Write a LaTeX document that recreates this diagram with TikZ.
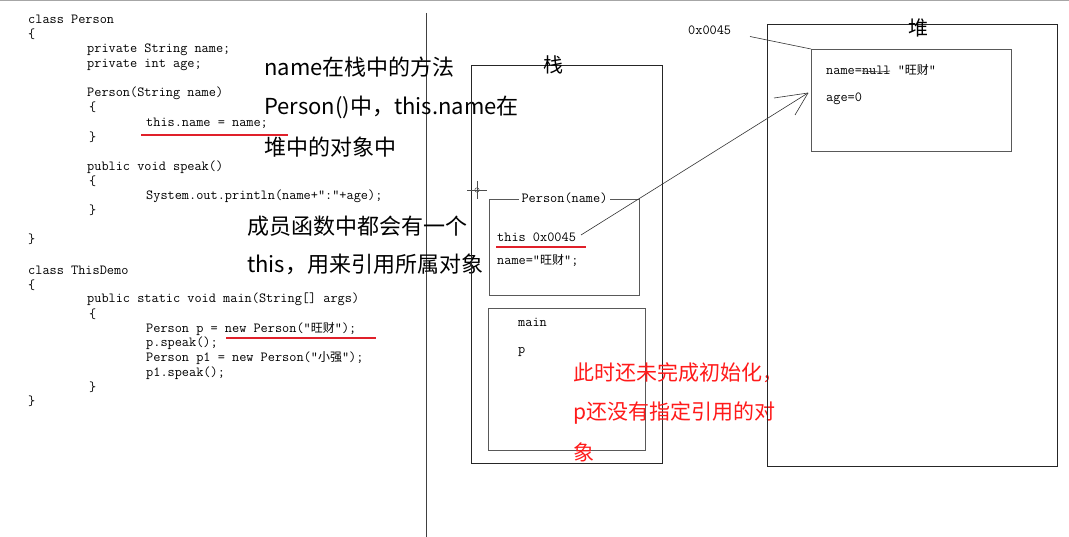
\documentclass[tikz,border=0pt]{standalone}
\usepackage{fontspec}
\newfontfamily\cjk{Noto Sans CJK SC}
\newcommand\codefont{\ttfamily\fontsize{13.9}{14}\selectfont}
\newcommand\cjkcode{\cjk\fontsize{12}{12}\selectfont}
\newcommand\notefont{\cjk\fontsize{22}{22}\selectfont}
\newcommand\rednotefont{\cjk\fontsize{21}{21}\selectfont}
\definecolor{redline}{HTML}{E0202A}
\definecolor{rednote}{HTML}{FF1A1A}
\begin{document}
\begin{tikzpicture}[x=1pt,y=-1pt,
  code/.style={font=\codefont,anchor=west,inner sep=0pt},
  note/.style={font=\notefont,anchor=west,inner sep=0pt},
  rnote/.style={font=\rednotefont,text=rednote,anchor=west,inner sep=0pt},
  title/.style={font=\cjk\fontsize{20}{20}\selectfont,inner sep=0pt},
  uline/.style={draw=redline,line width=2pt},
  boxa/.style={draw=black!85,line width=0.9pt},
  boxb/.style={draw=black!65,line width=0.9pt},
  thin/.style={draw=black!80,line width=0.6pt}]
\useasboundingbox (0,0) rectangle (1069,537);
\fill[white] (0,0) rectangle (1069,537);
\draw[black!35,line width=1pt] (0,0.5) -- (1069,0.5);
% divider
\coordinate (dtop) at (426.5,13);
\coordinate (dbot) at (426.5,537);
\draw[black!75,line width=0.9pt] (dtop) -- (dbot);
% code
\begin{scope}[yshift=-1.5pt]
\node[code] (c1) at (28,18) {class Person};
\node[code] (c2) at (28,33) {\{};
\node[code] (c3) at (87,48) {private String name;};
\node[code] (c4) at (87,63) {private int age;};
\node[code] (c5) at (87,92) {Person(String name)};
\node[code] (c6) at (89,106) {\{};
\node[code] (c7) at (146,122) {this.name = name;};
\node[code] (c8) at (89,136) {\}};
\node[code] (c9) at (87,166) {public void speak()};
\node[code] (c10) at (89,180) {\{};
\node[code] (c11) at (146,195) {System.out.println(name+”:”+age);};
\node[code] (c12) at (89,209) {\}};
\node[code] (c13) at (28,238) {\}};
\node[code] (c14) at (28,269) {class ThisDemo};
\node[code] (c15) at (28,284) {\{};
\node[code] (c16) at (87,298) {public static void main(String[] args)};
\node[code] (c17) at (89,313) {\{};
\node[code] (c18) at (146,328) {Person p = new Person(”{\cjkcode 旺财}”);};
\node[code] (c19) at (146,342) {p.speak();};
\node[code] (c20) at (146,357) {Person p1 = new Person(”{\cjkcode 小强}”);};
\node[code] (c21) at (146,372) {p1.speak();};
\node[code] (c22) at (89,386) {\}};
\node[code] (c23) at (28,400) {\}};
\end{scope}
% underlines
\coordinate (u1a) at (141,135); \coordinate (u1b) at (288,135);
\draw[uline] (u1a) -- (u1b);
\coordinate (u2a) at (226,338); \coordinate (u2b) at (376,338);
\draw[uline] (u2a) -- (u2b);
% notes
\node[note] (n1) at (264,67) {name在栈中的方法};
\node[note] (n2) at (264,107) {Person()中，this.name在};
\node[note] (n3) at (264,147) {堆中的对象中};
\node[note] (n4) at (247,226) {成员函数中都会有一个};
\node[note] (n5) at (247,264) {this，用来引用所属对象};
% stack
\draw[boxa] (471,65) rectangle (662,463);
\node[title] (stk) at (553,65) {栈};
% crosshair
\coordinate (ch) at (477,190);
\draw[black!70,line width=0.6pt] ([xshift=-10pt]ch) -- ([xshift=10pt]ch) ([yshift=-9pt]ch) -- ([yshift=9pt]ch);
\draw[black!70,line width=0.5pt] (ch) circle (2.2pt);
% Person(name) frame
\draw[boxb] (489,199) rectangle (639,295);
\node[code,anchor=center,fill=white,inner sep=3pt] (pn) at (564.5,198.5) {Person(name)};
\node[code] (thisref) at (497,237) {this 0x0045};
\node[code] (pname) at (497,260) {name=”{\cjkcode 旺财}”;};
\coordinate (u3a) at (496,247.5); \coordinate (u3b) at (586,247.5);
\draw[uline] (u3a) -- (u3b);
% main frame
\draw[boxb] (488,308) rectangle (645,450);
\node[code] (mn) at (518,322) {main};
\node[code] (mp) at (518,352) {p};
% red note
\node[rnote] (r1) at (573,373) {此时还未完成初始化，};
\node[rnote] (r2) at (573,413) {p还没有指定引用的对};
\node[rnote] (r3) at (573,452) {象};
% heap
\draw[boxa] (767,24) rectangle (1057,466);
\node[title] (heap) at (918,28) {堆};
\draw[boxb] (811,49) rectangle (1011,151);
\coordinate (objcorner) at (811,49);
\node[code] (hname) at (826,70) {name=null ”{\cjkcode 旺财}”};
\draw[black!80,line width=0.7pt] (862,71) -- (880,72) -- (890,71);
\node[code] (hage) at (826,99) {age=0};
\node[code] (addr) at (688,30) {0x0045};
\coordinate (addrend) at (750,36.5);
\draw[thin] (addrend) -- (objcorner);
% reference arrow
\coordinate (tip) at (808,93);
\coordinate (rstart) at (581,235);
\draw[thin] (rstart) -- (tip);
\draw[thin] (tip) -- ++(-34,5);
\draw[thin] (tip) -- ++(-13,22);
\end{tikzpicture}
\end{document}
